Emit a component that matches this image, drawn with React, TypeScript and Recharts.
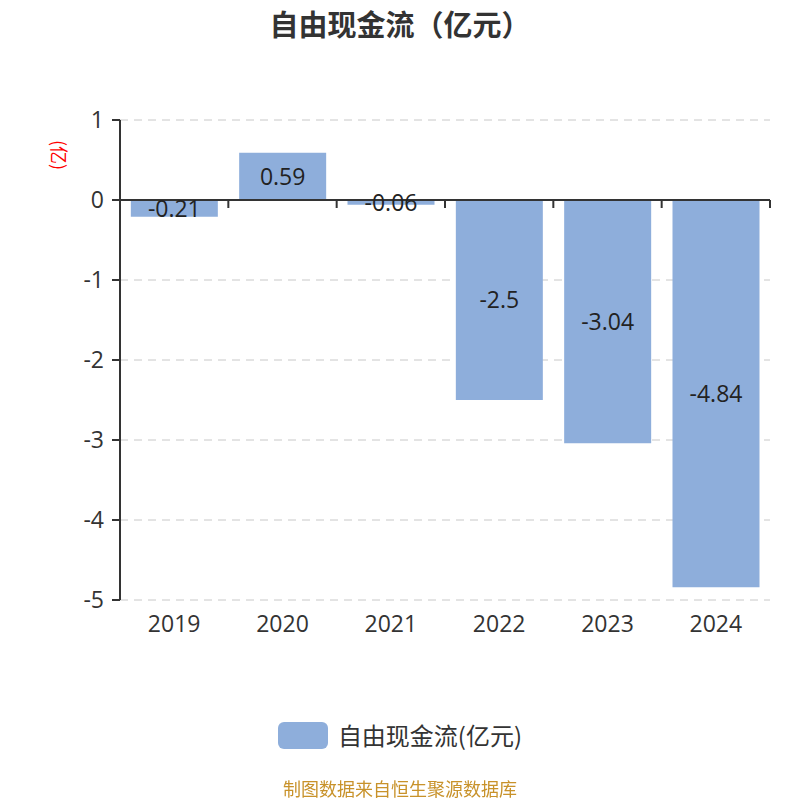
import { BarChart, Bar, XAxis, YAxis, CartesianGrid, ReferenceLine, LabelList } from "recharts";

const years = ["2019", "2020", "2021", "2022", "2023", "2024"];
const freeCashFlow = [-0.21, 0.59, -0.06, -2.5, -3.04, -4.84];
const yTicks = [1, 0, -1, -2, -3, -4, -5];

const data = years.map((y, i) => ({ year: y, value: freeCashFlow[i] }));

const FONT = "'Open Sans', 'Noto Sans CJK SC', sans-serif";
const CJK = "'Noto Sans CJK SC', sans-serif";
const BAR = "#8eaedb";

// zero line with tick marks at category boundaries
const ZeroAxis = (props: any) => {
  const { x1, x2, y1 } = props;
  const n = years.length;
  const step = (x2 - x1) / n;
  return (
    <g>
      <line x1={x1} x2={x2} y1={y1} y2={y1} stroke="#333" strokeWidth={2} />
      {years.map((_, i) => (
        <line key={i} x1={x1 + step * (i + 1)} x2={x1 + step * (i + 1)} y1={y1} y2={y1 + 8} stroke="#333" strokeWidth={2} />
      ))}
    </g>
  );
};

const App = () => {
  return (
    <div style={{ position: "fixed", left: 0, top: 0, width: 800, height: 800, background: "#fff", fontFamily: FONT }}>
      <div style={{ position: "absolute", top: 7, left: 0, width: 800, textAlign: "center", fontSize: 29, lineHeight: "32px", fontWeight: 700, color: "#333", fontFamily: CJK }}>
        自由现金流（亿元）
      </div>
      <BarChart
        width={800}
        height={800}
        data={data}
        margin={{ top: 120, right: 30, bottom: 170, left: 60 }}
        barCategoryGap="10%"
      >
        <CartesianGrid vertical={false} stroke="#c8c8c8" strokeDasharray="8 6" />
        <XAxis
          dataKey="year"
          axisLine={false}
          tickLine={false}
          tickSize={0}
          tickMargin={16}
          height={30}
          tick={{ fontSize: 23, fill: "#333", fontFamily: FONT }}
        />
        <YAxis
          domain={[-5, 1]}
          ticks={yTicks}
          width={60}
          tickSize={8}
          tickMargin={8}
          axisLine={{ stroke: "#333", strokeWidth: 2 }}
          tickLine={{ stroke: "#333", strokeWidth: 2 }}
          tick={{ fontSize: 23, fill: "#333", fontFamily: FONT }}
          interval={0}
        />
        <Bar dataKey="value" fill={BAR} isAnimationActive={false}>
          <LabelList
            dataKey="value"
            position="center"
            fill="#222"
            style={{ fontSize: 23, fontFamily: FONT }}
          />
        </Bar>
        <ReferenceLine y={0} shape={<ZeroAxis />} />
      </BarChart>
      <div style={{ position: "absolute", left: 60, top: 155, transform: "translate(-50%, -50%) rotate(90deg)", color: "red", fontSize: 18, lineHeight: 1, fontFamily: CJK, whiteSpace: "nowrap" }}>
        (亿)
      </div>
      <div style={{ position: "absolute", top: 721, left: 0, width: 800, display: "flex", justifyContent: "center", alignItems: "center" }}>
        <div style={{ width: 50, height: 27, borderRadius: 6, background: BAR, marginRight: 10 }} />
        <span style={{ fontSize: 24, lineHeight: "28px", color: "#333", fontFamily: CJK }}>自由现金流(亿元)</span>
      </div>
      <div style={{ position: "absolute", top: 778, left: 0, width: 800, textAlign: "center", fontSize: 18, lineHeight: "20px", color: "#c8922a", fontFamily: CJK }}>
        制图数据来自恒生聚源数据库
      </div>
    </div>
  );
};

export default App;
